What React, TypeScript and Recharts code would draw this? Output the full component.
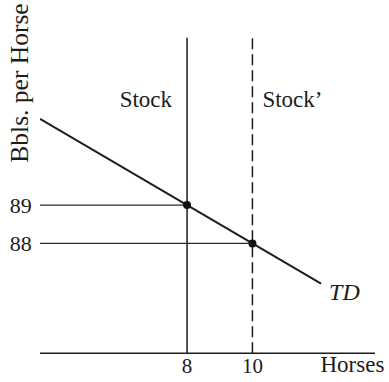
import React from "react";
import {
  ComposedChart,
  Line,
  Scatter,
  XAxis,
  YAxis,
  ReferenceLine,
  ReferenceDot,
  Label,
} from "recharts";

// Total demand (TD) line endpoints: horses, barrels per horse
const tdHorses = [3.5, 12.1];
const tdBbls = [91.25, 86.95];

// Equilibrium points for Stock and Stock'
const stockHorses = [8, 10];
const stockBbls = [89, 88];

const xTicks = [8, 10];
const yTicks = [88, 89];
const xDomain = [3.5, 13.75];
const yDomain = [85.13, 93.37];

const stockLabels = ["Stock", "Stock\u2019"];
const xTitle = "Horses";
const yTitle = "Bbls. per Horse";
const curveLabel = "TD";

const tdData = tdHorses.map((x, i) => ({ x, y: tdBbls[i] }));
const pointData = stockHorses.map((x, i) => ({ x, y: stockBbls[i] }));

const FONT = "'Liberation Serif', 'Times New Roman', Times, serif";
const INK = "#1c1c1c";
const txt = (size: number, italic = false): React.CSSProperties => ({
  fontFamily: FONT,
  fontSize: size,
  fontStyle: italic ? "italic" : "normal",
  fontWeight: 400,
  fill: INK,
});

const XTick = (props: any) => {
  const { x, y, payload } = props;
  return (
    <text x={x} y={y + 20} textAnchor="middle" style={txt(21)}>
      {payload.value}
    </text>
  );
};

const YTick = (props: any) => {
  const { x, y, payload } = props;
  return (
    <text x={x} y={y + 7.7} textAnchor="end" style={txt(22)}>
      {payload.value}
    </text>
  );
};

export default function App() {
  return (
    <div style={{ position: "absolute", left: 0, top: 0, width: 389, height: 382, background: "#fff", fontFamily: FONT }}>
      <ComposedChart
        width={389}
        height={382}
        margin={{ top: 37.7, right: 14, bottom: 0, left: 0 }}
        style={{ fontFamily: FONT }}
      >
        <XAxis
          type="number"
          dataKey="x"
          domain={xDomain}
          ticks={xTicks}
          allowDataOverflow
          tickLine={false}
          tickSize={0}
          tickMargin={0}
          height={28.7}
          axisLine={{ stroke: INK, strokeWidth: 1.4 }}
          tick={<XTick />}
        >
          <Label
            content={(p: any) => {
              const vb = p.viewBox;
              return (
                <text x={vb.x + vb.width - 54.5} y={vb.y + 18.7} style={txt(23)}>
                  {xTitle}
                </text>
              );
            }}
          />
        </XAxis>
        <YAxis
          type="number"
          dataKey="y"
          domain={yDomain}
          ticks={yTicks}
          allowDataOverflow
          width={40}
          axisLine={false}
          tickLine={false}
          tickSize={0}
          tickMargin={8.3}
          tick={<YTick />}
        >
          <Label
            content={() => (
              <text
                x={28}
                y={83}
                transform="rotate(-90, 28, 83)"
                textAnchor="middle"
                style={txt(25.5)}
              >
                {yTitle}
              </text>
            )}
          />
        </YAxis>

        <ReferenceLine
          segment={[{ x: xDomain[0], y: stockBbls[0] }, { x: stockHorses[0], y: stockBbls[0] }]}
          stroke="#2a2a2a"
          strokeWidth={1.4}
        />
        <ReferenceLine
          segment={[{ x: xDomain[0], y: stockBbls[1] }, { x: stockHorses[1], y: stockBbls[1] }]}
          stroke="#2a2a2a"
          strokeWidth={1.4}
        />
        <ReferenceLine x={stockHorses[0]} stroke={INK} strokeWidth={1.5}>
          <Label
            content={(p: any) => {
              const vb = p.viewBox;
              return (
                <text x={vb.x - 15} y={vb.y + 69.3} textAnchor="end" style={txt(23)}>
                  {stockLabels[0]}
                </text>
              );
            }}
          />
        </ReferenceLine>
        <ReferenceLine x={stockHorses[1]} stroke={INK} strokeWidth={1.5} strokeDasharray="11 5">
          <Label
            content={(p: any) => {
              const vb = p.viewBox;
              return (
                <text x={vb.x + 10} y={vb.y + 69.3} textAnchor="start" style={txt(23)}>
                  {stockLabels[1]}
                </text>
              );
            }}
          />
        </ReferenceLine>

        <Line
          data={tdData}
          dataKey="y"
          type="linear"
          stroke={INK}
          strokeWidth={2}
          dot={false}
          activeDot={false}
          isAnimationActive={false}
        />
        <Scatter
          data={pointData}
          dataKey="y"
          fill="#111"
          isAnimationActive={false}
          shape={(p: any) => <circle cx={p.cx} cy={p.cy} r={4} fill="#111" />}
        />
        <ReferenceDot
          x={tdHorses[1]}
          y={tdBbls[1]}
          r={1}
          fill="none"
          stroke="none"
          label={(p: any) => {
            const vb = p.viewBox;
            const cx = vb.x + (vb.width || 0) / 2;
            const cy = vb.y + (vb.height || 0) / 2;
            return (
              <text x={cx + 8} y={cy + 16} style={txt(24, true)}>
                {curveLabel}
              </text>
            );
          }}
        />
      </ComposedChart>
    </div>
  );
}
